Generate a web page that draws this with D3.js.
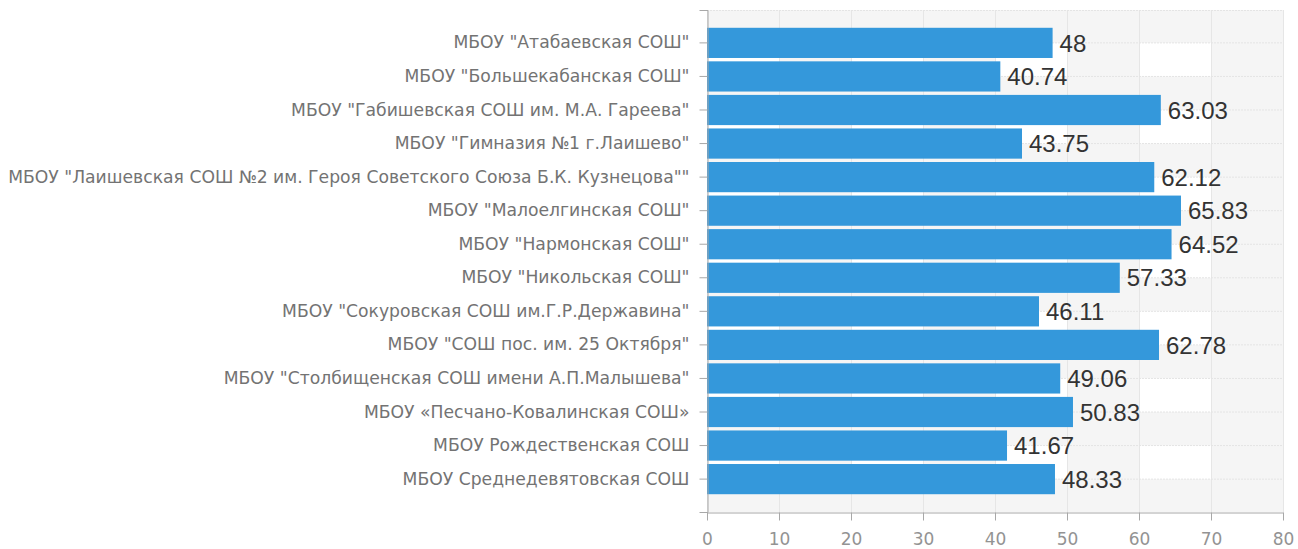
<!DOCTYPE html>
<html>
<head>
<meta charset="utf-8">
<script src="https://cdn.jsdelivr.net/npm/d3@7"></script>
<style>
  body { margin: 0; background: #fff; }
  svg { display: block; }
  .cat text { font-family: "DejaVu Sans", sans-serif; font-size: 17.2px; fill: #737373; }
  .num text { font-family: "DejaVu Sans", sans-serif; font-size: 17px; fill: #939393; }
  .cat path, .cat line, .num path, .num line { stroke: #a8a8a8; }
  .val { font-family: "Liberation Sans", Arial, sans-serif; font-size: 24px; fill: #333; }
</style>
</head>
<body>
<svg id="chart" width="1298" height="549"></svg>
<script>
// школы и средний результат
var schools = [
  'МБОУ "Атабаевская СОШ"',
  'МБОУ "Большекабанская СОШ"',
  'МБОУ "Габишевская СОШ им. М.А. Гареева"',
  'МБОУ "Гимназия №1 г.Лаишево"',
  'МБОУ "Лаишевская СОШ №2 им. Героя Советского Союза Б.К. Кузнецова""',
  'МБОУ "Малоелгинская СОШ"',
  'МБОУ "Нармонская СОШ"',
  'МБОУ "Никольская СОШ"',
  'МБОУ "Сокуровская СОШ им.Г.Р.Державина"',
  'МБОУ "СОШ пос. им. 25 Октября"',
  'МБОУ "Столбищенская СОШ имени А.П.Малышева"',
  'МБОУ «Песчано-Ковалинская СОШ»',
  'МБОУ Рождественская СОШ',
  'МБОУ Среднедевятовская СОШ'
];
var values = [48, 40.74, 63.03, 43.75, 62.12, 65.83, 64.52, 57.33, 46.11, 62.78, 49.06, 50.83, 41.67, 48.33];
var xTicks = [0, 10, 20, 30, 40, 50, 60, 70, 80];

var pLeft = 707, pRight = 1283, pTop = 10, pBottom = 512;

var svg = d3.select("#chart");

var x = d3.scaleLinear().domain([0, 80]).range([pLeft, pRight]);
var y = d3.scaleBand()
    .domain(schools)
    .range([pTop, pBottom])
    .paddingInner(0.1)
    .paddingOuter(0.53);

var g = svg.append("g");

// полосы фона: по столбцам и по строкам
var colBands = d3.range(xTicks.length - 1).filter(function (i) { return i % 2 == 1; });
g.selectAll("rect.col")
    .data(colBands)
    .enter().append("rect")
    .attr("class", "col")
    .attr("x", function (i) { return x(xTicks[i]); })
    .attr("y", pTop)
    .attr("width", function (i) { return x(xTicks[i + 1]) - x(xTicks[i]); })
    .attr("height", pBottom - pTop)
    .attr("fill", "#f5f5f5");

var centers = schools.map(function (s) { return y(s) + y.bandwidth() / 2; });
var edges = [pTop].concat(centers).concat([pBottom]);
var rowBands = d3.range(edges.length - 1).filter(function (i) { return i % 2 == 0; });
g.selectAll("rect.row")
    .data(rowBands)
    .enter().append("rect")
    .attr("class", "row")
    .attr("x", pLeft)
    .attr("y", function (i) { return edges[i]; })
    .attr("width", pRight - pLeft)
    .attr("height", function (i) { return edges[i + 1] - edges[i]; })
    .attr("fill", "#f5f5f5");

// сетка
g.selectAll("line.vg")
    .data(xTicks)
    .enter().append("line")
    .attr("class", "vg")
    .attr("x1", function (d) { return x(d) + 0.5; })
    .attr("x2", function (d) { return x(d) + 0.5; })
    .attr("y1", pTop)
    .attr("y2", pBottom)
    .attr("stroke", "#e6e6e6");

g.selectAll("line.hg")
    .data(centers)
    .enter().append("line")
    .attr("class", "hg")
    .attr("x1", pLeft)
    .attr("x2", pRight)
    .attr("y1", function (d) { return d; })
    .attr("y2", function (d) { return d; })
    .attr("stroke", "#e4e4e4")
    .attr("stroke-dasharray", "2,1");

g.append("line")
    .attr("x1", pLeft).attr("x2", pRight)
    .attr("y1", pTop + 0.5).attr("y2", pTop + 0.5)
    .attr("stroke", "#e4e4e4")
    .attr("stroke-dasharray", "2,1");

// столбики
g.selectAll("rect.bar")
    .data(values)
    .enter().append("rect")
    .attr("class", "bar")
    .attr("x", x(0))
    .attr("y", function (d, i) { return y(schools[i]); })
    .attr("width", function (d) { return x(d) - x(0); })
    .attr("height", y.bandwidth())
    .attr("fill", "#3498db");

// подписи значений
g.selectAll("text.val")
    .data(values)
    .enter().append("text")
    .attr("class", "val")
    .attr("x", function (d) { return x(d) + 7; })
    .attr("y", function (d, i) { return y(schools[i]) + y.bandwidth() / 2; })
    .attr("dy", "0.36em")
    .text(function (d) { return d; });

// оси
svg.append("g")
    .attr("class", "cat")
    .attr("transform", "translate(" + (pLeft + 0.5) + ",0)")
    .call(d3.axisLeft(y).tickSize(8).tickPadding(10));

svg.append("g")
    .attr("class", "num")
    .attr("transform", "translate(0," + (pBottom + 0.5) + ")")
    .call(d3.axisBottom(x).tickValues(xTicks).tickSize(8).tickSizeOuter(0).tickPadding(12));
</script>
</body>
</html>
